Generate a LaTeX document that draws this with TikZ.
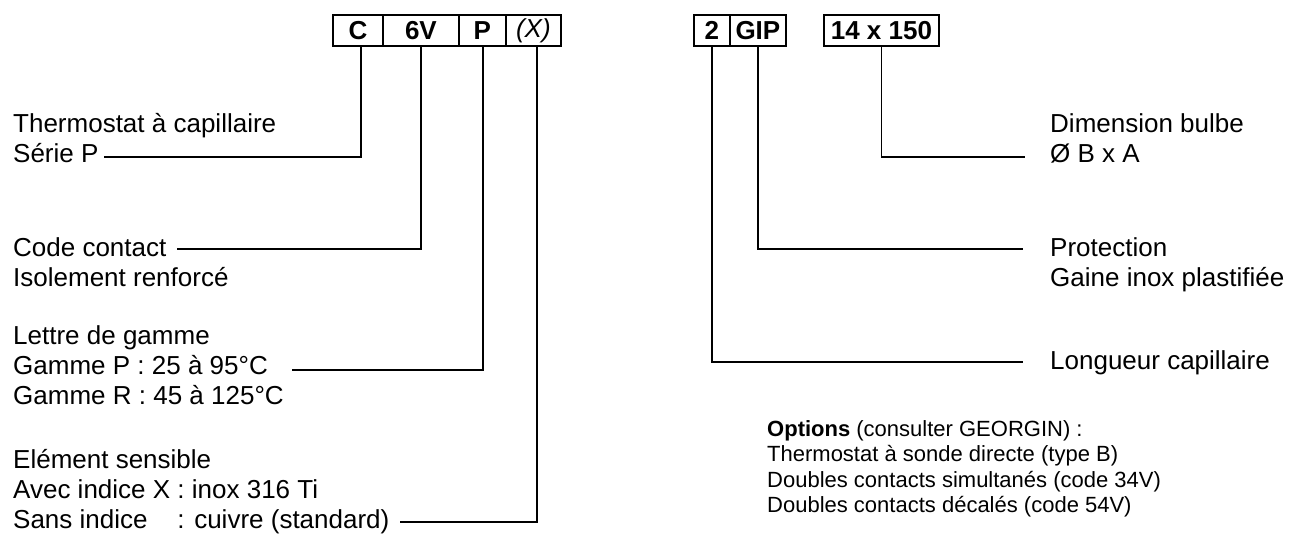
\documentclass[tikz,border=0pt]{standalone}
\usepackage{fontspec}
\setmainfont{Liberation Sans}
\usetikzlibrary{calc}
\begin{document}
\begin{tikzpicture}[x=1pt,y=-1pt,
  cell/.style={draw, line width=1.8pt, minimum height=31pt, inner sep=0pt, anchor=north west, font=\bfseries\fontsize{26}{26}\selectfont},
  lbl/.style={anchor=base west, inner sep=0pt, font=\fontsize{26}{26}\selectfont},
  opt/.style={anchor=base west, inner sep=0pt, font=\fontsize{22}{22}\selectfont},
  conn/.style={line width=1.3pt}]
\useasboundingbox (0,0) rectangle (1291,534);
% code boxes
\node[cell, minimum width=50pt] (cC) at (332,14) {C};
\node[cell, minimum width=76pt] (c6V) at (382,14) {6V};
\node[cell, minimum width=47pt] (cP) at (458,14) {P};
\node[cell, minimum width=55pt, font=\itshape\fontsize{26}{26}\selectfont] (cX) at (505,14) {(X)};
\node[cell, minimum width=36pt] (c2) at (693,14) {2};
\node[cell, minimum width=56pt] (cGIP) at (729,14) {GIP};
\node[cell, minimum width=115pt] (cDim) at (823,14) {14 x 150};
% left labels
\node[lbl] (t1a) at (13,133) {Thermostat à capillaire};
\node[lbl] (t1b) at (13,163) {Série P};
\node[lbl] (t2a) at (13,257) {Code contact};
\node[lbl] (t2b) at (13,287) {Isolement renforcé};
\node[lbl] (t3a) at (13,345) {Lettre de gamme};
\node[lbl] (t3b) at (13,375) {Gamme P : 25 à 95°C};
\node[lbl] (t3c) at (13,405) {Gamme R : 45 à 125°C};
\node[lbl] (t4a) at (13,468) {Elément sensible};
\node[lbl] (t4b) at (13,498) {Avec indice X : inox 316 Ti};
\node[lbl] (t4c) at (13,528) {\rlap{Sans indice}\phantom{Avec indice X }: cuivre (standard)};
% right labels
\node[lbl] (r1a) at (1050,133) {Dimension bulbe};
\node[lbl] (r1b) at (1050,163) {Ø B x A};
\node[lbl] (r2a) at (1050,257) {Protection};
\node[lbl] (r2b) at (1050,287) {Gaine inox plastifiée};
\node[lbl] (r3a) at (1050,370) {Longueur capillaire};
% options
\node[opt] (o1) at (767,437) {\textbf{Options} (consulter GEORGIN) :};
\node[opt] (o2) at (767,462) {Thermostat à sonde directe (type B)};
\node[opt] (o3) at (767,487) {Doubles contacts simultanés (code 34V)};
\node[opt] (o4) at (767,512) {Doubles contacts décalés (code 54V)};
% connectors
\coordinate (e1) at ($(t1b.base east)+(5,-6)$);
\coordinate (e2) at ($(t2a.base east)+(10,-8)$);
\coordinate (e3) at ($(t3b.base east)+(24,-5)$);
\coordinate (e4) at ($(t4c.base east)+(10,-6)$);
\draw[conn] (cC.south -| 361,0) |- (e1);
\draw[conn] (c6V.south) |- (e2);
\draw[conn] (cP.south -| 483,0) |- (e3);
\draw[conn] (cX.south -| 537,0) |- (e4);
\coordinate (f1) at ($(r1b.base west)+(-25,-6)$);
\coordinate (f2) at ($(r2a.base west)+(-27,-8)$);
\coordinate (f3) at ($(r3a.base west)+(-27,-8)$);
\draw[conn] (cDim.south) |- (f1);
\draw[conn] (cGIP.south) |- (f2);
\draw[conn] (c2.south) |- (f3);
\end{tikzpicture}
\end{document}
